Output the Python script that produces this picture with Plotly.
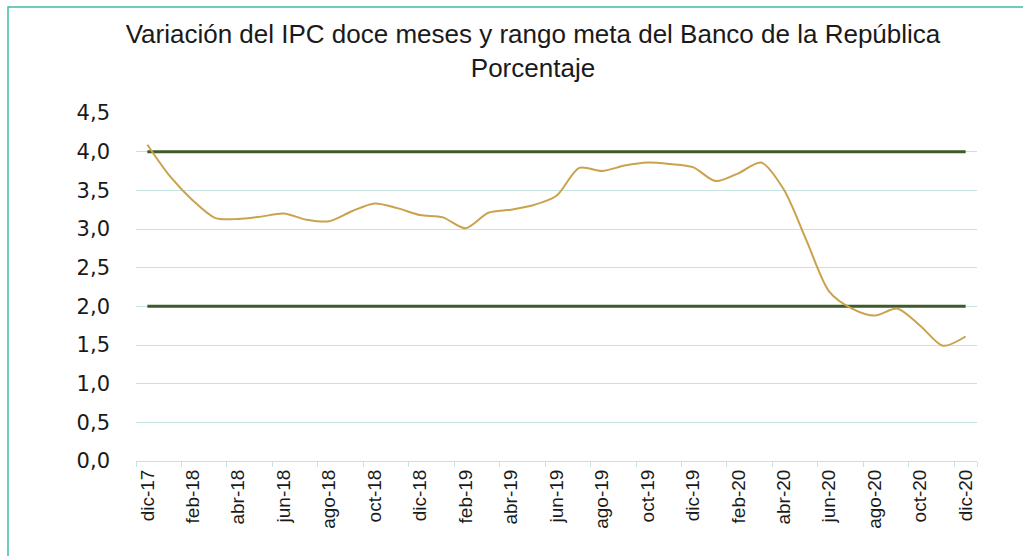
import plotly.graph_objects as go

months = ["dic-17", "ene-18", "feb-18", "mar-18", "abr-18", "may-18", "jun-18", "jul-18",
          "ago-18", "sep-18", "oct-18", "nov-18", "dic-18", "ene-19", "feb-19", "mar-19",
          "abr-19", "may-19", "jun-19", "jul-19", "ago-19", "sep-19", "oct-19", "nov-19",
          "dic-19", "ene-20", "feb-20", "mar-20", "abr-20", "may-20", "jun-20", "jul-20",
          "ago-20", "sep-20", "oct-20", "nov-20", "dic-20"]
ipc = [4.09, 3.68, 3.37, 3.14, 3.13, 3.16, 3.20, 3.12, 3.10, 3.23, 3.33, 3.27,
       3.18, 3.15, 3.01, 3.21, 3.25, 3.31, 3.43, 3.79, 3.75, 3.82, 3.86, 3.84,
       3.80, 3.62, 3.72, 3.86, 3.51, 2.85, 2.19, 1.97, 1.88, 1.97, 1.75, 1.49, 1.61]
meta_sup = [4.0] * len(months)
meta_inf = [2.0] * len(months)
y_ticks = [0, 0.5, 1.0, 1.5, 2.0, 2.5, 3.0, 3.5, 4.0, 4.5]
y_labels = ["0,0", "0,5", "1,0", "1,5", "2,0", "2,5", "3,0", "3,5", "4,0", "4,5"]

idx = list(range(len(months)))
label_idx = idx[::2]
label_txt = [months[i] for i in label_idx]
boundaries = [i - 0.5 for i in label_idx] + [len(months) - 0.5]

GREEN = "#3d5a2a"
GOLD = "#cba24c"
GRID = "#c4e3e1"

fig = go.Figure()
fig.add_trace(go.Scatter(x=idx, y=meta_sup, mode="lines", line=dict(color=GREEN, width=3),
                         showlegend=False, hoverinfo="skip"))
fig.add_trace(go.Scatter(x=idx, y=meta_inf, mode="lines", line=dict(color=GREEN, width=3),
                         showlegend=False, hoverinfo="skip"))
fig.add_trace(go.Scatter(x=idx, y=ipc, mode="lines", line=dict(color=GOLD, width=2, shape="spline", smoothing=0.8),
                         showlegend=False))
# dummy trace for tick-mark axis
fig.add_trace(go.Scatter(x=[boundaries[0]], y=[None], xaxis="x2", showlegend=False, hoverinfo="skip"))

xr = [-0.5, len(months) - 0.5]
fig.update_layout(
    width=1023, height=556,
    paper_bgcolor="white", plot_bgcolor="white",
    margin=dict(l=136, r=46, t=113, b=95),
    title=dict(text="Variación del IPC doce meses y rango meta del Banco de la República<br>Porcentaje",
               x=0.521, xanchor="center", y=1 - 43 / 556, yanchor="middle",
               font=dict(family="Liberation Sans, Arial", size=26, color="#1a1a1a")),
    xaxis=dict(range=xr, tickmode="array", tickvals=label_idx, ticktext=label_txt,
               tickangle=-90, ticks="", showgrid=False, zeroline=False,
               showline=True, linecolor=GRID, linewidth=1,
               tickfont=dict(family="Liberation Sans, Arial", size=19, color="#1a1a1a")),
    xaxis2=dict(range=xr, overlaying="x", side="bottom", anchor="y", tickmode="array",
                tickvals=boundaries, ticks="outside", ticklen=5, tickcolor=GRID,
                showticklabels=False, showgrid=False, zeroline=False, showline=False),
    yaxis=dict(range=[0, 4.5], tickmode="array", tickvals=y_ticks, ticktext=y_labels,
               showgrid=True, gridcolor=GRID, gridwidth=1, zeroline=False, showline=False,
               ticks="", ticklabelstandoff=25,
               tickfont=dict(family="DejaVu Sans", size=21, color="#1a1a1a")),
    shapes=[dict(type="rect", xref="paper", yref="paper",
                 x0=(8 - 136) / 841, x1=(1040 - 136) / 841,
                 y0=(461 - 570) / 348, y1=(461 - 7) / 348,
                 line=dict(color="#3cbca8", width=1.5), fillcolor="rgba(0,0,0,0)", layer="below")],
)
fig.write_html("out.html", config={"displayModeBar": False},
               post_script="document.body.style.margin='0px';document.body.style.overflow='hidden';")
